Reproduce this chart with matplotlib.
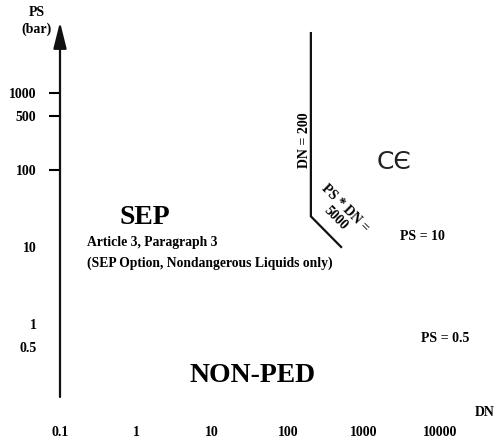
import numpy as np
import matplotlib.pyplot as plt

# --- datos ---
limite_dn = [200, 200, 500]
limite_ps = [6000, 25, 10]

y_ticks = [0.5, 1, 10, 100, 500, 1000]
y_labels = ['0.5', '1', '10', '100', '500', '1000']
y_marcados = [100, 500, 1000]

x_ticks = [0.1, 1, 10, 100, 1000, 10000]
x_labels = ['0.1', '1', '10', '100', '1000', '10000']

# --- figura ---
W, H = 496, 442
fig = plt.figure(figsize=(W / 100, H / 100), dpi=100)
fig.patch.set_facecolor('white')
plt.rcParams['font.family'] = ['Liberation Serif', 'DejaVu Serif']
plt.rcParams['font.weight'] = 'bold'

# ejes: izquierda en x=60px (DN=0.1), abajo en y=397px
ax = fig.add_axes([60 / W, (H - 397) / H, (W - 60) / W, 397 / H])
ax.set_xscale('log')
ax.set_yscale('log')
ax.set_xlim(0.1, 10 ** (-1 + 436 / 76))
ax.set_ylim(10 ** (2 - 227 / 77), 10 ** (2 + 170 / 77))
ax.patch.set_alpha(0)
for s in ax.spines.values():
    s.set_visible(False)
ax.minorticks_off()

ax.set_yticks(y_ticks)
ax.set_yticklabels(y_labels, fontsize=10, fontweight='bold')
ax.tick_params(axis='y', direction='out', length=8, width=1.5, pad=9)
for t, v in zip(ax.yaxis.get_major_ticks(), y_ticks):
    if v not in y_marcados:
        t.tick1line.set_visible(False)

ax.set_xticks(x_ticks)
ax.set_xticklabels(x_labels, fontsize=10, fontweight='bold')
ax.tick_params(axis='x', length=0, pad=21)
ax.tick_params(axis='both', which='minor', length=0)

# eje vertical con flecha
ylo = ax.get_ylim()[0]
ax.annotate('', xy=(0.1, 10 ** (2 + 148 / 77)), xytext=(0.1, ylo),
            arrowprops=dict(arrowstyle='-|>,head_length=0.8,head_width=0.2',
                            lw=1.6, color='#111111', mutation_scale=20,
                            shrinkA=0, shrinkB=0),
            annotation_clip=False)

# linea limite
ax.plot(limite_dn, limite_ps, color='#111111', lw=1.6, solid_joinstyle='miter',
        clip_on=False)

# textos
fig.text(37 / W, 1 - 21 / H, 'PS\n(bar)', ha='center', va='center', fontsize=10,
         fontweight='bold', linespacing=1.25)
fig.text(485 / W, 1 - 413 / H, 'DN', ha='center', va='center', fontsize=10,
         fontweight='bold')
fig.text(145 / W, 1 - 218 / H, 'SEP', ha='center', va='center', fontsize=20,
         fontweight='bold')
fig.text(87 / W, 1 - 242 / H, 'Article 3, Paragraph 3', ha='left', va='center',
         fontsize=9.8, fontweight='bold')
fig.text(87 / W, 1 - 263 / H, '(SEP Option, Nondangerous Liquids only)',
         ha='left', va='center', fontsize=9.8, fontweight='bold')
fig.text(253 / W, 1 - 376 / H, 'NON-PED', ha='center', va='center', fontsize=20,
         fontweight='bold')
fig.text(304 / W, 1 - 140 / H, 'DN = 200', ha='center', va='center', fontsize=10,
         fontweight='bold', rotation=90)
fig.text(340 / W, 1 - 213 / H, 'PS * DN =\n5000', ha='center', va='center',
         fontsize=10, fontweight='bold', rotation=-45, linespacing=1.05)
fig.text(394 / W, 1 - 162 / H, 'CЄ', ha='center', va='center', fontsize=18,
         family='DejaVu Sans', fontweight='normal', color='#222222')
fig.text(422 / W, 1 - 237 / H, 'PS = 10', ha='center', va='center', fontsize=10,
         fontweight='bold')
fig.text(445 / W, 1 - 338 / H, 'PS = 0.5', ha='center', va='center', fontsize=10,
         fontweight='bold')

fig.savefig('out.png', dpi=100)
